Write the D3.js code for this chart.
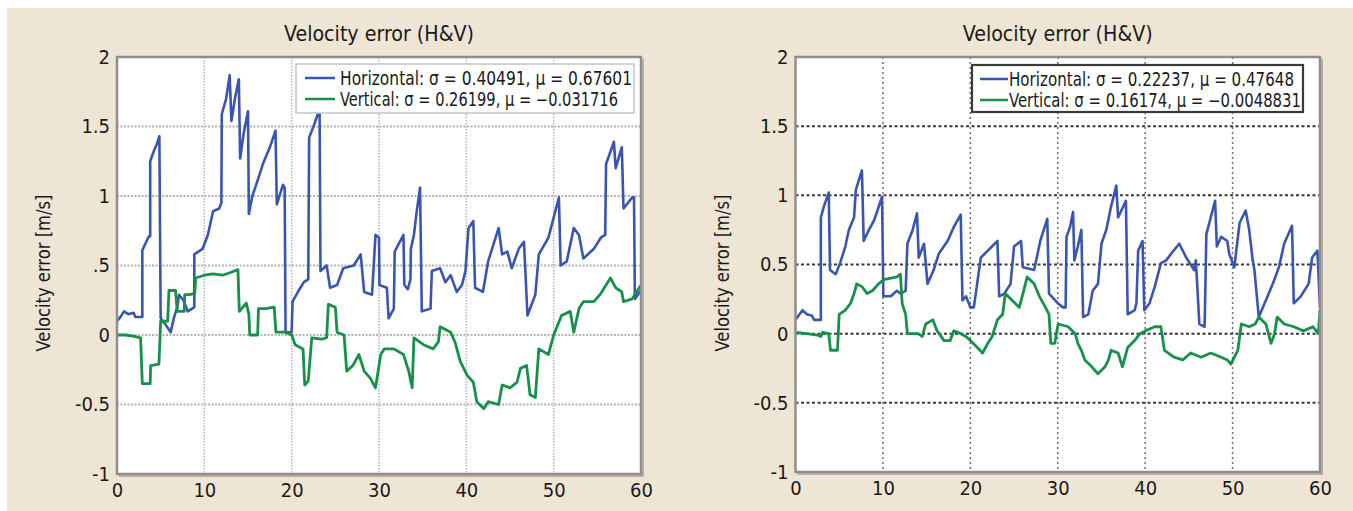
<!DOCTYPE html>
<html>
<head>
<meta charset="utf-8">
<script src="https://cdn.jsdelivr.net/npm/d3@7"></script>
<style>
  body { margin: 0; background: #fff; }
  text { font-family: "DejaVu Sans Condensed", "Liberation Sans Narrow", sans-serif; fill: #1a1a1a; }
</style>
</head>
<body>
<svg id="vis" width="1353" height="511"></svg>
<script>
// values: [time s, error m/s]
var leftHoriz = [
  [0,0.10],[0.4,0.13],[0.8,0.17],[1.3,0.15],[1.9,0.16],[2.1,0.13],[2.9,0.13],[2.9,0.61],[3.2,0.65],[3.65,0.71],
  [3.8,0.71],[3.8,1.25],[4.2,1.32],[4.6,1.38],[4.85,1.43],[5.0,0.12],[5.5,0.08],[6.15,0.02],[6.5,0.12],[6.9,0.20],
  [7.1,0.29],[7.6,0.25],[8.1,0.17],[8.6,0.19],[8.85,0.20],[8.85,0.58],[9.8,0.62],[10.4,0.72],[11.0,0.89],[11.7,0.91],
  [11.95,0.95],[12.0,1.59],[12.5,1.70],[12.9,1.87],[13.1,1.54],[13.5,1.70],[13.95,1.84],[14.1,1.27],[14.5,1.45],[15.0,1.61],
  [15.1,0.87],[15.5,1.00],[16.2,1.13],[16.7,1.23],[17.5,1.35],[18.15,1.47],[18.3,0.94],[19.0,1.08],[19.2,1.06],[19.3,0.02],
  [20.0,0.02],[20.1,0.24],[20.8,0.32],[21.4,0.38],[21.9,0.40],[22.0,1.42],[22.5,1.50],[23.0,1.59],[23.2,1.59],[23.3,0.46],
  [24.0,0.50],[24.4,0.34],[25.2,0.36],[25.9,0.48],[27.1,0.50],[27.9,0.58],[28.3,0.31],[29.2,0.29],[29.6,0.72],[30.0,0.70],
  [30.05,0.36],[30.9,0.34],[31.1,0.12],[31.7,0.19],[31.8,0.60],[32.8,0.72],[32.9,0.36],[33.3,0.33],[33.6,0.40],[33.65,0.62],
  [34.0,0.72],[34.3,0.88],[34.7,1.06],[34.9,0.17],[35.9,0.19],[36.05,0.46],[37.0,0.48],[37.6,0.38],[38.2,0.43],[38.9,0.31],
  [39.5,0.36],[39.9,0.46],[40.25,0.77],[40.8,0.82],[41.0,0.34],[41.9,0.31],[42.5,0.53],[43.7,0.77],[44.1,0.58],[44.7,0.60],
  [45.2,0.48],[46.0,0.62],[46.6,0.67],[47.0,0.14],[47.9,0.29],[48.3,0.58],[49.4,0.70],[50.6,0.99],[50.8,0.50],[51.5,0.53],
  [52.3,0.77],[52.9,0.72],[53.4,0.55],[54.6,0.62],[55.4,0.70],[55.9,0.72],[56.0,1.23],[56.9,1.39],[57.1,1.20],[57.8,1.35],
  [58.0,0.91],[59.0,0.99],[59.2,0.99],[59.3,0.26],[60.0,0.32]
];
var leftVert = [
  [0,0.00],[1.0,0.00],[2.0,-0.01],[2.7,-0.02],[2.9,-0.35],[3.8,-0.35],[3.85,-0.22],[4.8,-0.21],[5.0,0.10],[5.8,0.10],
  [5.95,0.32],[6.7,0.32],[6.9,0.17],[7.7,0.17],[7.75,0.29],[8.3,0.29],[8.9,0.30],[9.0,0.41],[10.0,0.43],[11.0,0.44],
  [12.1,0.43],[13.0,0.45],[13.85,0.47],[14.0,0.17],[14.8,0.23],[15.1,0.15],[15.2,0.00],[16.1,0.00],[16.2,0.19],[17.0,0.19],
  [18.0,0.20],[18.2,0.02],[19.2,0.02],[20.0,0.00],[20.4,-0.07],[21.3,-0.10],[21.5,-0.36],[21.9,-0.33],[22.3,-0.02],[23.5,-0.03],
  [24.0,-0.02],[24.2,0.22],[25.0,0.20],[25.2,0.02],[26.0,0.00],[26.3,-0.26],[27.0,-0.22],[27.7,-0.14],[28.3,-0.26],[29.0,-0.31],
  [29.6,-0.38],[30.2,-0.14],[30.6,-0.10],[31.7,-0.10],[32.8,-0.14],[33.4,-0.26],[33.8,-0.38],[34.0,-0.02],[35.1,-0.07],[36.2,-0.10],
  [36.8,-0.05],[37.0,0.06],[38.2,0.02],[38.7,-0.05],[39.3,-0.19],[40.1,-0.29],[40.8,-0.34],[41.2,-0.48],[42.0,-0.53],[42.5,-0.48],
  [43.7,-0.50],[44.1,-0.36],[45.0,-0.38],[45.8,-0.34],[46.2,-0.24],[46.9,-0.22],[47.3,-0.43],[47.9,-0.45],[48.3,-0.10],[49.4,-0.14],
  [50.0,0.00],[50.9,0.14],[51.9,0.17],[52.3,0.02],[52.9,0.19],[53.4,0.24],[54.6,0.24],[55.3,0.29],[56.5,0.41],[57.1,0.34],
  [57.8,0.31],[58.0,0.24],[59.0,0.26],[59.5,0.31],[60.0,0.36]
];
var rightHoriz = [
  [0,0.10],[0.8,0.17],[1.3,0.14],[1.9,0.13],[2.1,0.10],[2.9,0.10],[2.9,0.84],[3.25,0.92],[3.8,1.02],[3.95,0.46],
  [4.6,0.43],[5.1,0.51],[5.7,0.63],[6.1,0.75],[6.7,0.84],[6.9,1.04],[7.6,1.18],[7.8,0.67],[8.4,0.75],[9.0,0.82],
  [9.9,0.99],[10.05,0.27],[10.9,0.27],[11.6,0.31],[12.0,0.29],[12.6,0.31],[12.8,0.65],[13.4,0.75],[13.9,0.87],[14.1,0.55],
  [14.7,0.65],[15.1,0.36],[15.8,0.46],[16.4,0.58],[17.4,0.67],[18.1,0.77],[18.9,0.86],[19.1,0.24],[19.5,0.27],[20.0,0.19],
  [20.4,0.19],[21.2,0.55],[22.0,0.60],[23.1,0.67],[23.3,0.27],[23.9,0.29],[24.6,0.36],[25.0,0.63],[25.8,0.67],[26.0,0.48],
  [27.3,0.46],[28.0,0.67],[28.8,0.83],[29.0,0.29],[30.0,0.22],[30.6,0.19],[30.9,0.19],[31.0,0.70],[31.4,0.77],[31.75,0.88],
  [31.9,0.53],[32.3,0.63],[32.7,0.75],[32.9,0.12],[33.5,0.14],[34.0,0.31],[34.6,0.36],[35.0,0.65],[35.55,0.75],[36.1,0.92],
  [36.7,1.07],[36.9,0.84],[37.8,0.96],[38.0,0.14],[38.8,0.17],[39.0,0.22],[39.2,0.60],[39.7,0.67],[39.9,0.17],[40.5,0.22],
  [41.1,0.34],[41.8,0.51],[42.4,0.53],[43.0,0.58],[43.9,0.65],[44.7,0.55],[45.6,0.46],[45.8,0.53],[46.2,0.07],[46.8,0.05],
  [47.0,0.72],[47.5,0.84],[48.0,0.96],[48.2,0.63],[48.7,0.70],[49.4,0.67],[49.6,0.58],[50.2,0.48],[50.8,0.80],[51.5,0.89],
  [51.9,0.75],[52.3,0.53],[52.5,0.46],[53.0,0.12],[53.8,0.24],[54.6,0.36],[55.3,0.48],[55.9,0.65],[56.8,0.78],[57.0,0.22],
  [57.8,0.27],[58.7,0.36],[59.1,0.55],[59.7,0.60],[60.0,0.19]
];
var rightVert = [
  [0,0.01],[1.3,0.00],[2.5,-0.01],[2.9,-0.02],[3.1,0.01],[3.8,0.00],[4.0,-0.12],[4.8,-0.12],[5.0,0.14],[5.7,0.17],
  [6.3,0.22],[6.7,0.29],[7.0,0.36],[7.6,0.34],[8.2,0.29],[8.8,0.31],[9.5,0.36],[10.1,0.39],[11.6,0.41],[12.0,0.43],
  [12.2,0.22],[12.6,0.14],[12.8,0.00],[14.0,0.00],[14.5,-0.02],[14.9,0.07],[15.7,0.10],[16.2,0.02],[17.0,-0.05],[17.7,-0.05],
  [18.1,0.02],[18.9,0.00],[19.5,-0.02],[20.0,-0.05],[20.8,-0.10],[21.4,-0.14],[22.0,-0.07],[22.5,-0.02],[23.1,0.10],[23.7,0.14],
  [24.0,0.29],[24.8,0.24],[25.6,0.19],[26.1,0.31],[26.5,0.41],[27.3,0.36],[27.9,0.27],[28.6,0.19],[29.0,0.14],[29.2,-0.07],
  [29.66,-0.07],[30.04,0.07],[31.2,0.05],[32.0,0.00],[32.3,-0.07],[32.7,-0.12],[33.1,-0.19],[33.9,-0.24],[34.6,-0.29],[35.4,-0.24],
  [35.8,-0.19],[36.1,-0.12],[36.9,-0.14],[37.4,-0.24],[38.0,-0.10],[38.8,-0.05],[39.4,0.00],[40.0,0.02],[41.1,0.05],[41.8,0.05],
  [42.2,-0.12],[43.3,-0.17],[44.3,-0.19],[45.2,-0.14],[46.4,-0.17],[47.5,-0.14],[48.7,-0.17],[49.4,-0.19],[49.8,-0.22],[50.2,-0.17],
  [50.6,-0.12],[51.0,0.07],[51.9,0.05],[52.6,0.07],[53.0,0.12],[53.8,0.07],[54.4,-0.07],[54.8,0.00],[55.1,0.12],[55.9,0.07],
  [57.0,0.05],[58.1,0.02],[59.2,0.05],[59.8,0.00],[60.0,0.17]
];

var xTicks = [0, 10, 20, 30, 40, 50, 60];
var yTicks = [2, 1.5, 1, 0.5, 0, -0.5, -1];
var leftYLabels = ["2", "1.5", "1", ".5", "0", "-0.5", "-1"];
var rightYLabels = ["2", "1.5", "1", "0.5", "0", "-0.5", "-1"];
var leftLegend = ["Horizontal: \u03c3 = 0.40491, \u03bc = 0.67601", "Vertical: \u03c3 = 0.26199, \u03bc = \u22120.031716"];
var rightLegend = ["Horizontal: \u03c3 = 0.22237, \u03bc = 0.47648", "Vertical: \u03c3 = 0.16174, \u03bc = \u22120.0048831"];

var blue = "#3a55b0", green = "#17904a";

var svg = d3.select("#vis");
svg.append("rect").attr("x", 7).attr("y", 8).attr("width", 1346).attr("height", 503).attr("fill", "#efe5d4");

function panel(p) {
  var x = d3.scaleLinear().domain([0, 60]).range([p.x0, p.x1]);
  var y = d3.scaleLinear().domain([-1, 2]).range([p.y1, p.y0]);
  var g = svg.append("g");

  g.append("rect")
    .attr("x", p.x0).attr("y", p.y0)
    .attr("width", p.x1 - p.x0).attr("height", p.y1 - p.y0)
    .attr("fill", "#fff");

  // grid
  g.append("g").selectAll("line").data(xTicks.slice(1, -1)).enter().append("line")
    .attr("x1", d => x(d)).attr("x2", d => x(d))
    .attr("y1", p.y0).attr("y2", p.y1)
    .attr("stroke", p.vGrid).attr("stroke-width", p.vGridW)
    .attr("stroke-dasharray", p.vDash);
  g.append("g").selectAll("line").data(yTicks.slice(1, -1)).enter().append("line")
    .attr("x1", p.x0).attr("x2", p.x1)
    .attr("y1", d => y(d)).attr("y2", d => y(d))
    .attr("stroke", p.hGrid).attr("stroke-width", p.hGridW)
    .attr("stroke-dasharray", p.hDash);

  var line = d3.line().x(d => x(d[0])).y(d => y(d[1]));
  g.append("path").datum(p.horiz)
    .attr("fill", "none").attr("stroke", blue).attr("stroke-width", 2.6)
    .attr("stroke-linejoin", "round").attr("d", line);
  g.append("path").datum(p.vert)
    .attr("fill", "none").attr("stroke", green).attr("stroke-width", 2.8)
    .attr("stroke-linejoin", "round").attr("d", line);

  // frame
  g.append("rect")
    .attr("x", p.x0).attr("y", p.y0)
    .attr("width", p.x1 - p.x0).attr("height", p.y1 - p.y0)
    .attr("fill", "none").attr("stroke", "#8e8e8e").attr("stroke-width", 2.5);
  g.append("path")
    .attr("d", "M" + (p.x1 + 2) + "," + (p.y0 + 2) + "V" + (p.y1 + 2) + "H" + (p.x0 + 2))
    .attr("fill", "none").attr("stroke", "#b5ada0").attr("stroke-width", 2);

  // axes
  var xAxis = g.append("g")
    .attr("transform", "translate(0," + p.y1 + ")")
    .call(d3.axisBottom(x).tickValues(xTicks).tickSize(0).tickPadding(9).tickFormat(d3.format("d")));
  xAxis.select(".domain").remove();
  xAxis.selectAll("text").style("font-size", "20px").attr("fill", "#1a1a1a")
    .attr("font-family", null);

  var yAxis = g.append("g")
    .attr("transform", "translate(" + p.x0 + ",0)")
    .call(d3.axisLeft(y).tickValues(yTicks).tickSize(0).tickPadding(7)
      .tickFormat((d, i) => p.yLabels[i]));
  yAxis.select(".domain").remove();
  yAxis.selectAll("text").style("font-size", "20px").attr("fill", "#1a1a1a")
    .attr("font-family", null);

  svg.append("text")
    .attr("x", (p.x0 + p.x1) / 2).attr("y", 41)
    .attr("text-anchor", "middle").style("font-size", "22px")
    .attr("textLength", 190).attr("lengthAdjust", "spacingAndGlyphs")
    .text("Velocity error (H&V)");

  svg.append("text")
    .attr("transform", "translate(" + p.labelX + ",273) rotate(-90)")
    .attr("text-anchor", "middle").style("font-size", "19px")
    .attr("textLength", 157).attr("lengthAdjust", "spacingAndGlyphs")
    .text("Velocity error [m/s]");

  // legend
  var lg = g.append("g");
  lg.append("rect")
    .attr("x", p.leg.x).attr("y", p.leg.y).attr("width", p.leg.w).attr("height", p.leg.h)
    .attr("fill", "#fff").attr("stroke", p.leg.stroke).attr("stroke-width", p.leg.sw);
  [blue, green].forEach(function(c, i) {
    var ly = p.leg.y + 14 + i * 21;
    lg.append("line")
      .attr("x1", p.leg.x + p.leg.s0).attr("x2", p.leg.x + p.leg.s1)
      .attr("y1", ly).attr("y2", ly)
      .attr("stroke", c).attr("stroke-width", 2.5);
    lg.append("text")
      .attr("x", p.leg.x + p.leg.tx).attr("y", ly + 7)
      .style("font-size", "19px")
      .attr("textLength", p.leg.lens[i]).attr("lengthAdjust", "spacingAndGlyphs")
      .text(p.legend[i]);
  });
}

panel({
  x0: 117, x1: 641, y0: 57, y1: 474,
  horiz: leftHoriz, vert: leftVert, yLabels: leftYLabels, legend: leftLegend, labelX: 50,
  vGrid: "#b4b4b4", vGridW: 1.5, vDash: "1.5,1.5",
  hGrid: "#b4b4b4", hGridW: 2.2, hDash: "2,1.5",
  leg: {x: 296, y: 64, w: 338, h: 49, stroke: "#c4c4c4", sw: 1.5, s0: 9, s1: 39, tx: 44, lens: [292, 278]}
});

panel({
  x0: 795.5, x1: 1320, y0: 57, y1: 472,
  horiz: rightHoriz, vert: rightVert, yLabels: rightYLabels, legend: rightLegend, labelX: 729,
  vGrid: "#6e6e6e", vGridW: 1.5, vDash: "2,3",
  hGrid: "#3a3a3a", hGridW: 2, hDash: "3,2.5",
  leg: {x: 972, y: 65, w: 331, h: 47, stroke: "#3a3a3a", sw: 2.2, s0: 8, s1: 36, tx: 37, lens: [285, 292]}
});
</script>
</body>
</html>
